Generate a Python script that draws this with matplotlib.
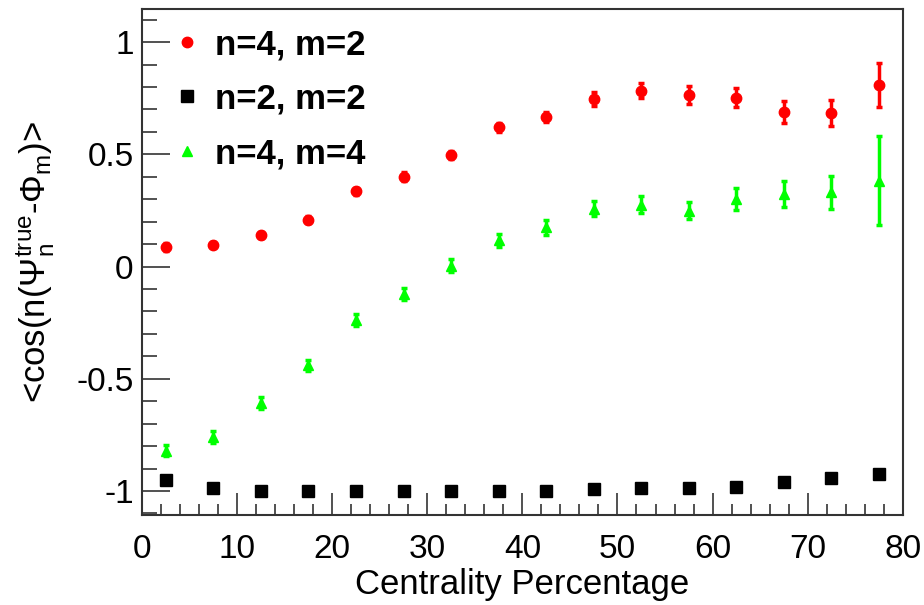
import matplotlib
matplotlib.use("Agg")
import matplotlib.pyplot as plt
from matplotlib.lines import Line2D
from matplotlib.ticker import MultipleLocator

plt.rcParams["font.family"] = ["Liberation Sans", "DejaVu Sans"]
plt.rcParams["mathtext.fontset"] = "custom"
plt.rcParams["mathtext.rm"] = "Liberation Sans"
plt.rcParams["mathtext.it"] = "Liberation Sans"

centrality = [2.5, 7.5, 12.5, 17.5, 22.5, 27.5, 32.5, 37.5,
              42.5, 47.5, 52.5, 57.5, 62.5, 67.5, 72.5, 77.5]

# n=4, m=2
cos42 = [0.086, 0.097, 0.141, 0.209, 0.335, 0.401, 0.497, 0.620,
         0.665, 0.747, 0.784, 0.765, 0.753, 0.689, 0.685, 0.809]
err42 = [0.018, 0.012, 0.012, 0.014, 0.016, 0.018, 0.018, 0.020,
         0.022, 0.030, 0.034, 0.040, 0.043, 0.049, 0.057, 0.099]

# n=2, m=2
cos22 = [-0.949, -0.987, -1.000, -1.000, -1.000, -1.000, -1.000, -1.000,
         -1.000, -0.993, -0.987, -0.989, -0.981, -0.962, -0.943, -0.924]
err22 = [0.002, 0.002, 0.001, 0.001, 0.001, 0.001, 0.001, 0.001,
         0.001, 0.001, 0.001, 0.002, 0.002, 0.003, 0.004, 0.005]

# n=4, m=4
cos44 = [-0.820, -0.760, -0.607, -0.441, -0.238, -0.122, 0.004, 0.116,
         0.175, 0.257, 0.276, 0.249, 0.301, 0.324, 0.331, 0.383]
err44 = [0.026, 0.026, 0.026, 0.026, 0.026, 0.028, 0.028, 0.030,
         0.033, 0.033, 0.039, 0.039, 0.048, 0.059, 0.073, 0.200]

labels = ["n=4, m=2", "n=2, m=2", "n=4, m=4"]
colors = ["#ff0000", "black", "#00ff00"]
markers = ["o", "s", "^"]
sizes = [7.5, 8, 6.5]

fig = plt.figure(figsize=(9.24, 6.05), dpi=100)
ax = fig.add_axes([0.1537, 0.1488, 0.8233, 0.8362])

for y, e, c, m, s, cap in zip([cos42, cos22, cos44], [err42, err22, err44],
                              colors, markers, sizes, [2, 0, 2]):
    ax.errorbar(centrality, y, yerr=e, fmt=m, color=c, ms=s,
                elinewidth=2.5, capsize=cap, capthick=2.5)

ax.set_xlim(0, 80)
ax.set_ylim(-1.107, 1.147)
ax.xaxis.set_major_locator(MultipleLocator(10))
ax.xaxis.set_minor_locator(MultipleLocator(2))
ax.yaxis.set_minor_locator(MultipleLocator(0.1))
ax.set_yticks([-1, -0.5, 0, 0.5, 1])
ax.set_yticklabels(["-1", "-0.5", "0", "0.5", "1"])

ax.tick_params(which="both", direction="in", top=False, right=False,
               labelsize=24, color="#333333", width=1.2)
ax.tick_params(which="major", axis="y", length=20, pad=6)
ax.tick_params(which="minor", axis="y", length=11)
ax.tick_params(which="major", axis="x", length=16, pad=14)
ax.tick_params(which="minor", axis="x", length=8)
for s in ax.spines.values():
    s.set_linewidth(1.5)
    s.set_color("#333333")

ax.set_xlabel("Centrality Percentage", fontsize=25, labelpad=2)
ax.set_ylabel(r"<cos(n($\Psi_{n}^{true}$-$\Phi_{m}$)>", fontsize=25,
              labelpad=14)

handles = [Line2D([], [], ls="none", marker=m, color=c, ms=s)
           for m, c, s in zip(markers, colors, sizes)]
ax.legend(handles, labels, loc="upper left", bbox_to_anchor=(0.018, 0.99),
          frameon=False, prop={"size": 25, "weight": "bold"},
          handletextpad=0.3, labelspacing=0.62, borderaxespad=0.0,
          handlelength=1.0)

fig.savefig("out.png", dpi=100)
